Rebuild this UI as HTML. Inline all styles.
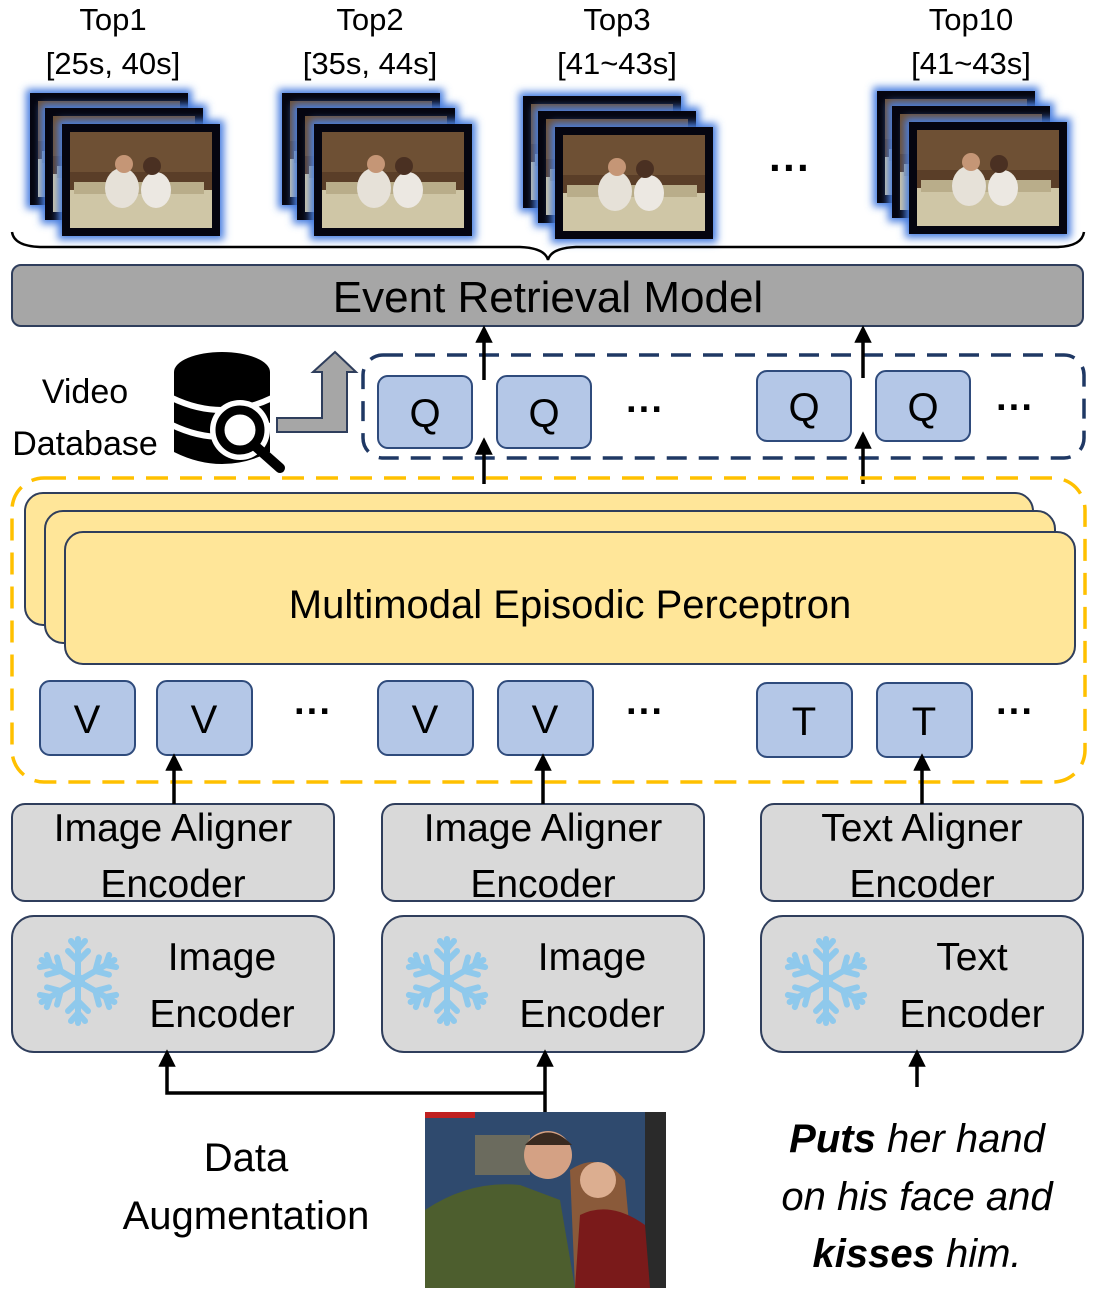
<!DOCTYPE html>
<html><head><meta charset="utf-8"><style>
html,body{margin:0;padding:0;background:#fff;}
svg{display:block;}
text{font-family:"Liberation Sans",sans-serif;fill:#000;}
</style></head><body>
<svg width="1100" height="1297" viewBox="0 0 1100 1297" xmlns="http://www.w3.org/2000/svg">
<defs>
<filter id="glow" x="-20%" y="-20%" width="140%" height="140%"><feGaussianBlur stdDeviation="4"/></filter>
<marker id="ah" viewBox="0 0 10 10" refX="5" refY="5" markerWidth="5" markerHeight="5" orient="auto-start-reverse"><path d="M0,0 L10,5 L0,10 z" fill="#000"/></marker>
<g id="frame">
<rect x="-4" y="-4" width="166" height="120" fill="#4a7fe0" filter="url(#glow)"/>
<rect x="0" y="0" width="158" height="112" fill="#050510"/>
<rect x="8" y="8" width="142" height="96" fill="#5a3e28"/>
<rect x="8" y="8" width="142" height="40" fill="#6e5034"/>
<rect x="8" y="66" width="142" height="38" fill="#cfc6a6"/>
<rect x="12" y="58" width="130" height="12" fill="#b9ad8a"/>
<ellipse cx="60" cy="64" rx="17" ry="20" fill="#e6e1d8"/>
<circle cx="62" cy="40" r="9" fill="#c59676"/>
<ellipse cx="94" cy="66" rx="15" ry="18" fill="#ece8e2"/>
<circle cx="90" cy="42" r="9" fill="#4a3022"/>
</g>
<g id="stack">
<use href="#frame" x="0" y="0"/>
<use href="#frame" x="15" y="15"/>
<use href="#frame" x="32" y="31"/>
</g>
<g id="snow" stroke="#8fc9ec" stroke-width="6" stroke-linecap="round" fill="none">
<g id="spoke"><line x1="0" y1="0" x2="0" y2="-42"/><line x1="0" y1="-20" x2="-10" y2="-30"/><line x1="0" y1="-20" x2="10" y2="-30"/><line x1="0" y1="-32" x2="-7" y2="-40"/><line x1="0" y1="-32" x2="7" y2="-40"/></g>
<use href="#spoke" transform="rotate(60)"/><use href="#spoke" transform="rotate(120)"/><use href="#spoke" transform="rotate(180)"/><use href="#spoke" transform="rotate(240)"/><use href="#spoke" transform="rotate(300)"/>
<circle cx="0" cy="0" r="7" fill="#8fc9ec" stroke="none"/>
</g>
</defs>

<g font-size="31" text-anchor="middle">
<text x="113" y="30">Top1</text><text x="113" y="74">[25s, 40s]</text>
<text x="370" y="30">Top2</text><text x="370" y="74">[35s, 44s]</text>
<text x="617" y="30">Top3</text><text x="617" y="74">[41~43s]</text>
<text x="971" y="30">Top10</text><text x="971" y="74">[41~43s]</text>
</g>
<use href="#stack" x="30" y="93"/>
<use href="#stack" x="282" y="93"/>
<use href="#stack" x="523" y="96"/>
<use href="#stack" x="877" y="91"/>
<text x="790" y="182" font-size="42" text-anchor="middle" font-weight="bold">···</text>

<path d="M12,232 Q14,246 40,247 L520,247 Q545,248 548,260 Q551,248 576,247 L1058,247 Q1082,246 1084,232" fill="none" stroke="#000" stroke-width="2.5"/>

<rect x="12" y="265" width="1071" height="61" rx="9" fill="#a6a6a6" stroke="#2f3e5c" stroke-width="2"/>
<text x="548" y="312" font-size="44" text-anchor="middle">Event Retrieval Model</text>

<text x="85" y="403" font-size="34" text-anchor="middle">Video</text>
<text x="85" y="455" font-size="34" text-anchor="middle">Database</text>
<g>
<ellipse cx="222" cy="372" rx="48" ry="20" fill="#000"/>
<path d="M174,372 L174,452 Q222,476 270,452 L270,372 Z" fill="#000"/>
<path d="M172,398 Q222,422 272,398" fill="none" stroke="#fff" stroke-width="6"/>
<path d="M172,425 Q222,449 272,425" fill="none" stroke="#fff" stroke-width="6"/>
<circle cx="240" cy="430" r="30" fill="#fff"/>
<circle cx="240" cy="430" r="20" fill="none" stroke="#000" stroke-width="9"/>
<line x1="254" y1="445" x2="280" y2="468" stroke="#000" stroke-width="10" stroke-linecap="round"/>
</g>
<path d="M277,432 L277,418 L322,418 L322,372 L313,372 L335,352 L356,372 L347,372 L347,432 Z" fill="#a6a6a6" stroke="#2f3e5c" stroke-width="2"/>

<rect x="363" y="355" width="721" height="103" rx="20" fill="none" stroke="#1f3864" stroke-width="3.5" stroke-dasharray="20 12"/>
<g fill="#b4c7e7" stroke="#2f4b7c" stroke-width="2">
<rect x="378" y="376" width="94" height="72" rx="10"/>
<rect x="497" y="376" width="94" height="72" rx="10"/>
<rect x="757" y="371" width="94" height="70" rx="10"/>
<rect x="876" y="371" width="94" height="70" rx="10"/>
</g>
<g font-size="40" text-anchor="middle">
<text x="425" y="427">Q</text><text x="544" y="427">Q</text><text x="804" y="421">Q</text><text x="923" y="421">Q</text>
</g>
<g font-size="38" text-anchor="middle" font-weight="bold"><text x="645" y="422">···</text><text x="1015" y="420">···</text></g>
<g stroke="#000" stroke-width="3.5" marker-end="url(#ah)">
<line x1="484" y1="380" x2="484" y2="334"/>
<line x1="863" y1="378" x2="863" y2="334"/>
<line x1="484" y1="484" x2="484" y2="446"/>
<line x1="863" y1="484" x2="863" y2="440"/>
</g>

<rect x="12" y="478" width="1073" height="304" rx="32" fill="none" stroke="#ffc000" stroke-width="3.5" stroke-dasharray="22 12"/>
<g fill="#ffe699" stroke="#2f3e5c" stroke-width="2">
<rect x="25" y="493" width="1008" height="132" rx="18"/>
<rect x="45" y="511" width="1010" height="132" rx="18"/>
<rect x="65" y="532" width="1010" height="132" rx="18"/>
</g>
<text x="570" y="618" font-size="40" text-anchor="middle">Multimodal Episodic Perceptron</text>

<g fill="#b4c7e7" stroke="#2f4b7c" stroke-width="2">
<rect x="40" y="681" width="95" height="74" rx="10"/>
<rect x="157" y="681" width="95" height="74" rx="10"/>
<rect x="378" y="681" width="95" height="74" rx="10"/>
<rect x="498" y="681" width="95" height="74" rx="10"/>
<rect x="757" y="683" width="95" height="74" rx="10"/>
<rect x="877" y="683" width="95" height="74" rx="10"/>
</g>
<g font-size="40" text-anchor="middle">
<text x="87" y="733">V</text><text x="204" y="733">V</text><text x="425" y="733">V</text><text x="545" y="733">V</text>
<text x="804" y="735">T</text><text x="924" y="735">T</text>
</g>
<g font-size="38" text-anchor="middle" font-weight="bold"><text x="313" y="724">···</text><text x="645" y="724">···</text><text x="1015" y="724">···</text></g>

<g fill="#d9d9d9" stroke="#2f3e5c" stroke-width="2">
<rect x="12" y="804" width="322" height="97" rx="13"/>
<rect x="382" y="804" width="322" height="97" rx="13"/>
<rect x="761" y="804" width="322" height="97" rx="13"/>
<rect x="12" y="916" width="322" height="136" rx="22"/>
<rect x="382" y="916" width="322" height="136" rx="22"/>
<rect x="761" y="916" width="322" height="136" rx="22"/>
</g>
<g font-size="39" text-anchor="middle">
<text x="173" y="841">Image Aligner</text><text x="173" y="897">Encoder</text>
<text x="543" y="841">Image Aligner</text><text x="543" y="897">Encoder</text>
<text x="922" y="841">Text Aligner</text><text x="922" y="897">Encoder</text>
<text x="222" y="970">Image</text><text x="222" y="1027">Encoder</text>
<text x="592" y="970">Image</text><text x="592" y="1027">Encoder</text>
<text x="972" y="970">Text</text><text x="972" y="1027">Encoder</text>
</g>
<use href="#snow" x="78" y="981"/>
<use href="#snow" x="447" y="981"/>
<use href="#snow" x="826" y="981"/>
<g stroke="#000" stroke-width="3.5" fill="none">
<line x1="174" y1="804" x2="174" y2="762" marker-end="url(#ah)"/>
<line x1="543" y1="804" x2="543" y2="762" marker-end="url(#ah)"/>
<line x1="922" y1="804" x2="922" y2="762" marker-end="url(#ah)"/>
<line x1="545" y1="1112" x2="545" y2="1058" marker-end="url(#ah)"/>
<polyline points="545,1093 167,1093 167,1058" marker-end="url(#ah)"/>
<line x1="917" y1="1087" x2="917" y2="1058" marker-end="url(#ah)"/>
</g>

<text x="246" y="1171" font-size="40" text-anchor="middle">Data</text>
<text x="246" y="1229" font-size="40" text-anchor="middle">Augmentation</text>
<g>
<rect x="425" y="1112" width="241" height="176" fill="#2f4a6e"/>
<rect x="425" y="1112" width="50" height="6" fill="#c02020"/>
<rect x="475" y="1135" width="55" height="40" fill="#6b6b5e"/>
<rect x="645" y="1112" width="21" height="176" fill="#2a2a2a"/>
<path d="M425,1210 Q470,1180 520,1185 L560,1200 L575,1288 L425,1288 Z" fill="#4d5e2e"/>
<circle cx="548" cy="1155" r="24" fill="#d4a184"/>
<path d="M525,1145 Q548,1120 572,1145 Z" fill="#3a2a20"/>
<path d="M570,1170 Q600,1150 625,1180 L635,1288 L575,1288 Z" fill="#8a5a3a"/>
<circle cx="598" cy="1180" r="18" fill="#dcae90"/>
<path d="M580,1215 Q610,1200 645,1225 L650,1288 L575,1288 Z" fill="#7a1a1a"/>
</g>
<g font-size="40" text-anchor="middle" font-style="italic">
<text x="917" y="1152"><tspan font-weight="bold">Puts</tspan> her hand</text>
<text x="917" y="1210">on his face and</text>
<text x="917" y="1267"><tspan font-weight="bold">kisses</tspan> him.</text>
</g>
</svg>
</body></html>
